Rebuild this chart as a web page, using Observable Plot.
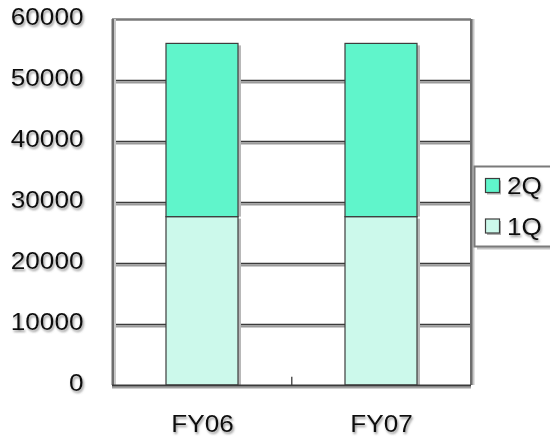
<!DOCTYPE html>
<html>
<head>
<meta charset="utf-8">
<script src="https://cdn.jsdelivr.net/npm/d3@7"></script>
<script src="https://cdn.jsdelivr.net/npm/@observablehq/plot@0.6"></script>
<style>
  html, body { margin: 0; padding: 0; background: #fff; }
  #chart { position: relative; width: 550px; height: 441px; overflow: hidden; }
</style>
</head>
<body>
<div id="chart"></div>
<script>
const categories = ["FY06", "FY07"];
const series = ["1Q", "2Q"];
const q1Values = [27600, 27600];
const q2Values = [28400, 28400];
const yTicks = [0, 10000, 20000, 30000, 40000, 50000, 60000];
const colors = ["#ccf9eb", "#60f5cb"];

const data = categories.flatMap((c, i) => [
  {category: c, series: "1Q", value: q1Values[i]},
  {category: c, series: "2Q", value: q2Values[i]}
]);

const W = 550, H = 441;
const mL = 112, mR = 79, mT = 19, mB = 56;
const step = (W - mL - mR) / categories.length;
const FONT = "'Liberation Sans', Arial, sans-serif";

const plot = Plot.plot({
  width: W, height: H,
  marginLeft: mL, marginRight: mR, marginTop: mT, marginBottom: mB,
  style: {fontFamily: FONT, fontSize: "24px", color: "#111", background: "#fff", overflow: "hidden"},
  x: {domain: categories, paddingInner: 0.6, paddingOuter: 0.3, label: null},
  y: {domain: [0, 60000], label: null},
  color: {domain: series, range: colors},
  marks: [
    // gridline shadows + gridlines
    Plot.ruleY(yTicks.slice(1, -1), {stroke: "#9a9a9a", strokeWidth: 2, dy: 2}),
    Plot.ruleY(yTicks.slice(1, -1), {stroke: "#3a3a3a", strokeWidth: 1.5}),
    // frame (top, left, right)
    Plot.ruleY([60000], {stroke: "#7a7a7a", strokeWidth: 2.5}),
    Plot.ruleX([0], {x: () => categories[0], dx: -step / 2 + 2, y1: 0, y2: 60000, stroke: "#c8c8c8", strokeWidth: 2.5}),
    Plot.ruleX([0], {x: () => categories[0], dx: -step / 2, y1: 0, y2: 60000, stroke: "#6e6e6e", strokeWidth: 2.5}),
    Plot.ruleX([0], {x: () => categories[categories.length - 1], dx: step / 2 + 2, y1: 0, y2: 60000, stroke: "#c8c8c8", strokeWidth: 2.5}),
    Plot.ruleX([0], {x: () => categories[categories.length - 1], dx: step / 2, y1: 0, y2: 60000, stroke: "#6e6e6e", strokeWidth: 2.5}),
    // bar shadows
    Plot.barY(data, Plot.stackY({x: "category", y: "value", z: "series", fill: "#b8b8b8", order: series, dx: 3, insetTop: 2})),
    // bars
    Plot.barY(data, Plot.stackY({x: "category", y: "value", z: "series", fill: "series", order: series, stroke: "#3d3d3d", strokeWidth: 1.2})),
    // category separator tick
    Plot.ruleX(categories.slice(1), {x: d => d, dx: -step / 2, y1: 0, y2: 1350, stroke: "#555", strokeWidth: 1.5}),
    // baseline
    Plot.ruleY([0], {stroke: "#a0a0a0", strokeWidth: 2, dy: 2}),
    Plot.ruleY([0], {stroke: "#3a3a3a", strokeWidth: 1.8}),
    Plot.axisY({ticks: yTicks, tickFormat: d3.format("d"), tickSize: 0, tickPadding: 29, dy: -2, fontSize: 24, fill: "#111"}),
    Plot.axisX({tickSize: 0, tickPadding: 29, fontSize: 24, fill: "#111"})
  ]
});

document.getElementById("chart").appendChild(plot);

const svg = d3.select(plot);
const defs = svg.insert("defs", ":first-child");
const f = defs.append("filter").attr("id", "txtsh").attr("x", "-20%").attr("y", "-30%").attr("width", "150%").attr("height", "170%");
f.append("feDropShadow").attr("dx", 1.2).attr("dy", 2).attr("stdDeviation", 1.1).attr("flood-color", "#666").attr("flood-opacity", 0.7);

// legend
const lg = svg.append("g").attr("font-family", FONT).attr("font-size", 24).attr("fill", "#111").attr("text-anchor", "start");
lg.append("rect").attr("x", 477).attr("y", 169.5).attr("width", 120).attr("height", 80).attr("fill", "#c4c4c4");
lg.append("rect").attr("x", 474.5).attr("y", 166.5).attr("width", 120).attr("height", 80).attr("fill", "#fff").attr("stroke", "#7a7a7a").attr("stroke-width", 2);
const legendOrder = series.slice().reverse();
legendOrder.forEach((s, i) => {
  const y = 178.5 + i * 40.5;
  lg.append("rect").attr("x", 487).attr("y", y + 2).attr("width", 14).attr("height", 14).attr("fill", "#b0b0b0");
  lg.append("rect").attr("x", 485.5).attr("y", y).attr("width", 14).attr("height", 14)
    .attr("fill", colors[series.indexOf(s)]).attr("stroke", "#3d3d3d").attr("stroke-width", 1.2);
  lg.append("text").attr("class", "stretch").attr("x", 507).attr("y", y + 7).attr("dy", "0.36em").text(s);
});

// text shadow + slight horizontal stretch like the reference rendering
svg.selectAll("[aria-label='y-axis tick label'] text, [aria-label='x-axis tick label'] text, text.stretch")
  .attr("filter", "url(#txtsh)")
  .each(function() {
    const len = this.getComputedTextLength();
    this.setAttribute("textLength", (len * 1.09).toFixed(1));
    this.setAttribute("lengthAdjust", "spacingAndGlyphs");
  });
</script>
</body>
</html>
